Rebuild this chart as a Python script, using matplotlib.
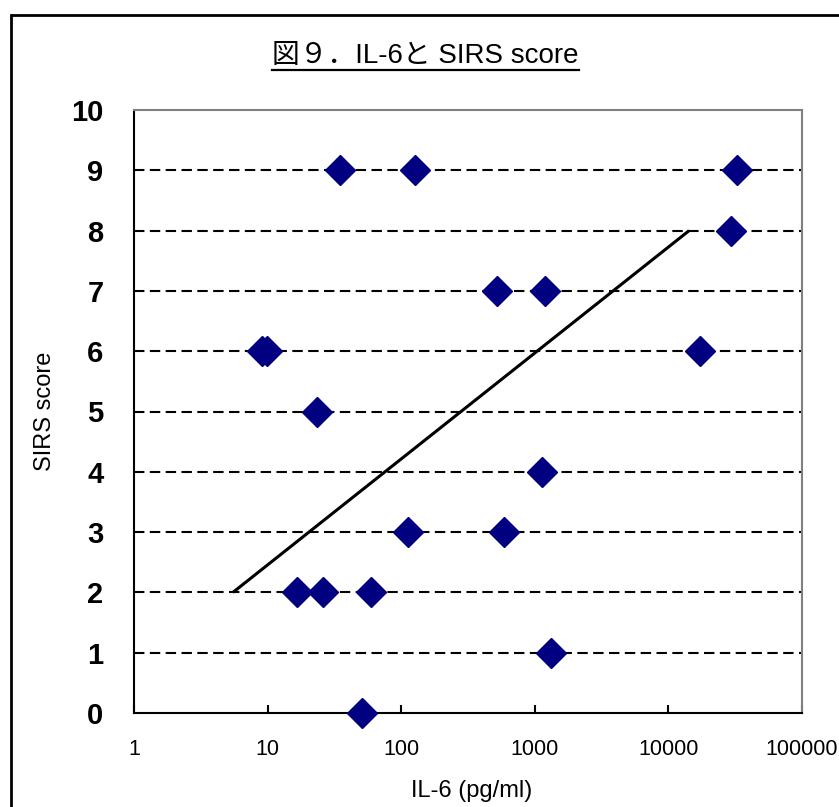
import matplotlib
matplotlib.use("Agg")
import matplotlib.pyplot as plt
from matplotlib.lines import Line2D
from matplotlib.patches import Rectangle
from matplotlib.ticker import FixedLocator, NullLocator

plt.rcParams['font.family'] = ['Liberation Sans', 'Noto Sans CJK JP', 'DejaVu Sans']

# IL-6 concentration (pg/ml) and SIRS score per patient
il6 = [34.8, 127, 32600, 29400, 521, 1190, 9.1, 9.9, 17300,
       23.4, 1130, 112, 588, 16.6, 26, 59.4, 1320, 50.9]
sirs = [9, 9, 9, 8, 7, 7, 6, 6, 6, 5, 4, 3, 3, 2, 2, 2, 1, 0]

# fitted trend line (log-linear) end points
trend_x = [5.5, 14300]
trend_y = [2, 8]

x_ticks = [1, 10, 100, 1000, 10000, 100000]
x_tick_labels = ["1", "10", "100", "1000", "10000", "100000"]
y_ticks = list(range(0, 11))

title = "図９．IL-6と SIRS score"
xlabel = "IL-6 (pg/ml)"
ylabel = "SIRS score"

W, H = 839, 807
fig = plt.figure(figsize=(W / 100, H / 100), dpi=100)
ax = fig.add_axes([134 / W, 1 - 713 / H, (802 - 134) / W, (713 - 110) / H])

ax.set_xscale("log")
ax.set_xlim(1, 100000)
ax.set_ylim(0, 10)

# dashed horizontal grid at each score
for y in y_ticks[1:-1]:
    ax.axhline(y, color="black", lw=1.5, linestyle=(0, (5.0, 2.6)), zorder=1)

ax.plot(trend_x, trend_y, color="black", lw=2.2, solid_capstyle="butt", zorder=2)
ax.plot(il6, sirs, linestyle="none", marker="D", ms=15.5,
        mfc="#000080", mec="#000080", zorder=3, clip_on=False)

for side in ("top", "right"):
    ax.spines[side].set_color("#808080")
    ax.spines[side].set_linewidth(1.5)
for side in ("left", "bottom"):
    ax.spines[side].set_color("black")
    ax.spines[side].set_linewidth(1.5)

ax.xaxis.set_major_locator(FixedLocator(x_ticks))
ax.xaxis.set_minor_locator(NullLocator())
ax.set_xticklabels(x_tick_labels)
ax.set_yticks(y_ticks)
ax.set_yticklabels([str(v) for v in y_ticks])

ax.tick_params(axis="x", direction="in", length=6, width=1.5, pad=19,
               labelsize=15.5, color="black")
ax.tick_params(axis="y", length=0, pad=22, labelsize=21)
for lbl in ax.get_yticklabels():
    lbl.set_fontweight("bold")

fig.text(472 / W, 1 - 791 / H, xlabel, ha="center", va="center", fontsize=17)
fig.text(45 / W, 1 - 411 / H, ylabel, ha="center", va="center",
         rotation=90, fontsize=17)
ttl = fig.text(425.5 / W, 1 - 56 / H, title, ha="center", va="center", fontsize=20)

# underline beneath the title
fig.canvas.draw()
bb = ttl.get_window_extent()
fig.add_artist(Line2D([bb.x0 / W, bb.x1 / W], [1 - 70 / H, 1 - 70 / H],
                      transform=fig.transFigure, color="black", lw=1.6))

# chart border
fig.add_artist(Rectangle((10.5 / W, -0.05), 1.1, 1.05 - 14.5 / H,
                         transform=fig.transFigure, fill=False,
                         edgecolor="black", lw=2.0, clip_on=False))

fig.savefig("out.png", dpi=100, facecolor="white")
